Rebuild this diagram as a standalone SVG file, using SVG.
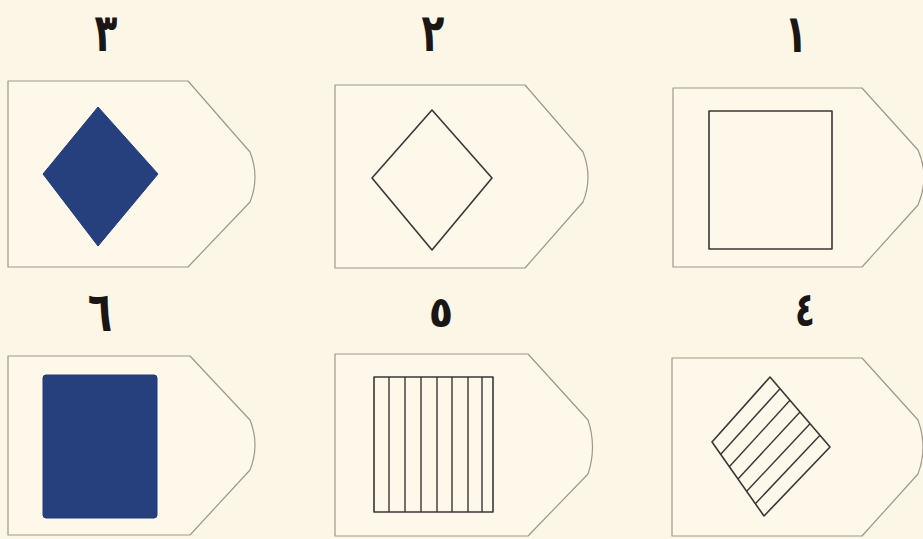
<svg xmlns="http://www.w3.org/2000/svg" width="923" height="539" viewBox="0 0 923 539">
<style>
.bg{fill:#fcf6e6}
.panel{fill:#fdf8ea;stroke:#9e978c;stroke-width:1.2;stroke-linejoin:round}
.out{fill:none;stroke:#3a3636;stroke-width:1.6;stroke-linejoin:round}
.solid{fill:#26407e;stroke:#22397a;stroke-width:1;stroke-linejoin:round}
.hatch{stroke:#3a3636;stroke-width:1.4}
.lbl{font-family:"DejaVu Sans",sans-serif;font-weight:bold;font-size:50px;fill:#1a1616;text-anchor:middle}
</style>
<rect class="bg" x="0" y="0" width="923" height="539"/>
<g id="n3">
<path class="panel" d="M8,81 H188 L250,152 Q260,177 250,202 L188,267 H8 Z"/>
<path class="solid" d="M98,107 L158,174 L98,246 L43,174 Z"/>
<text class="lbl" x="0" y="0" transform="translate(106,51) scale(0.75,1.06)">٣</text>
</g>
<g id="n2">
<path class="panel" d="M335,85 H525 L583,152 Q593,177 583,202 L525,268 H335 Z"/>
<path class="out" d="M432,110 L492,178 L432,250 L372,178 Z"/>
<text class="lbl" x="0" y="0" transform="translate(433,51) scale(0.75,1.06)">٢</text>
</g>
<g id="n1">
<path class="panel" d="M673,88 H862 L918,150 Q930,177 918,205 L862,267 H673 Z"/>
<rect class="out" x="709" y="111" width="123" height="138"/>
<text class="lbl" x="0" y="0" transform="translate(796,52) scale(0.75,1.06)">١</text>
</g>
<g id="n6">
<path class="panel" d="M8,356 H190 L250,420 Q260,445 250,470 L190,535 H8 Z"/>
<rect class="solid" x="43" y="375" width="114" height="143" rx="3"/>
<text class="lbl" x="0" y="0" transform="translate(100,331) scale(0.8,1.12)">٦</text>
</g>
<g id="n5">
<path class="panel" d="M335,354 H528 L588,420 Q597,447 588,474 L528,536 H335 Z"/>
<rect class="out" x="374" y="377" width="119" height="135"/>
<g class="hatch">
<line x1="389" y1="377" x2="389" y2="512"/>
<line x1="405" y1="377" x2="405" y2="512"/>
<line x1="421" y1="377" x2="421" y2="512"/>
<line x1="437" y1="377" x2="437" y2="512"/>
<line x1="452" y1="377" x2="452" y2="512"/>
<line x1="468" y1="377" x2="468" y2="512"/>
<line x1="482" y1="377" x2="482" y2="512"/>
</g>
<text class="lbl" x="0" y="0" transform="translate(441,327) scale(0.8,0.85)">٥</text>
</g>
<g id="n4">
<path class="panel" d="M672,358 H862 L918,420 Q928,447 918,474 L862,536 H672 Z"/>
<path class="out" d="M770,377 L830,447 L764,516 L712,442 Z"/>
<g class="hatch">
<line x1="780" y1="388.7" x2="720.7" y2="454.3"/>
<line x1="790" y1="400.3" x2="729.3" y2="466.7"/>
<line x1="800" y1="412" x2="738" y2="479"/>
<line x1="810" y1="423.7" x2="746.7" y2="491.3"/>
<line x1="820" y1="435.3" x2="755.3" y2="503.7"/>
</g>
<text class="lbl" x="0" y="0" transform="translate(805,326) scale(0.65,0.95)">٤</text>
</g>
<g id="connectors"/>
</svg>
